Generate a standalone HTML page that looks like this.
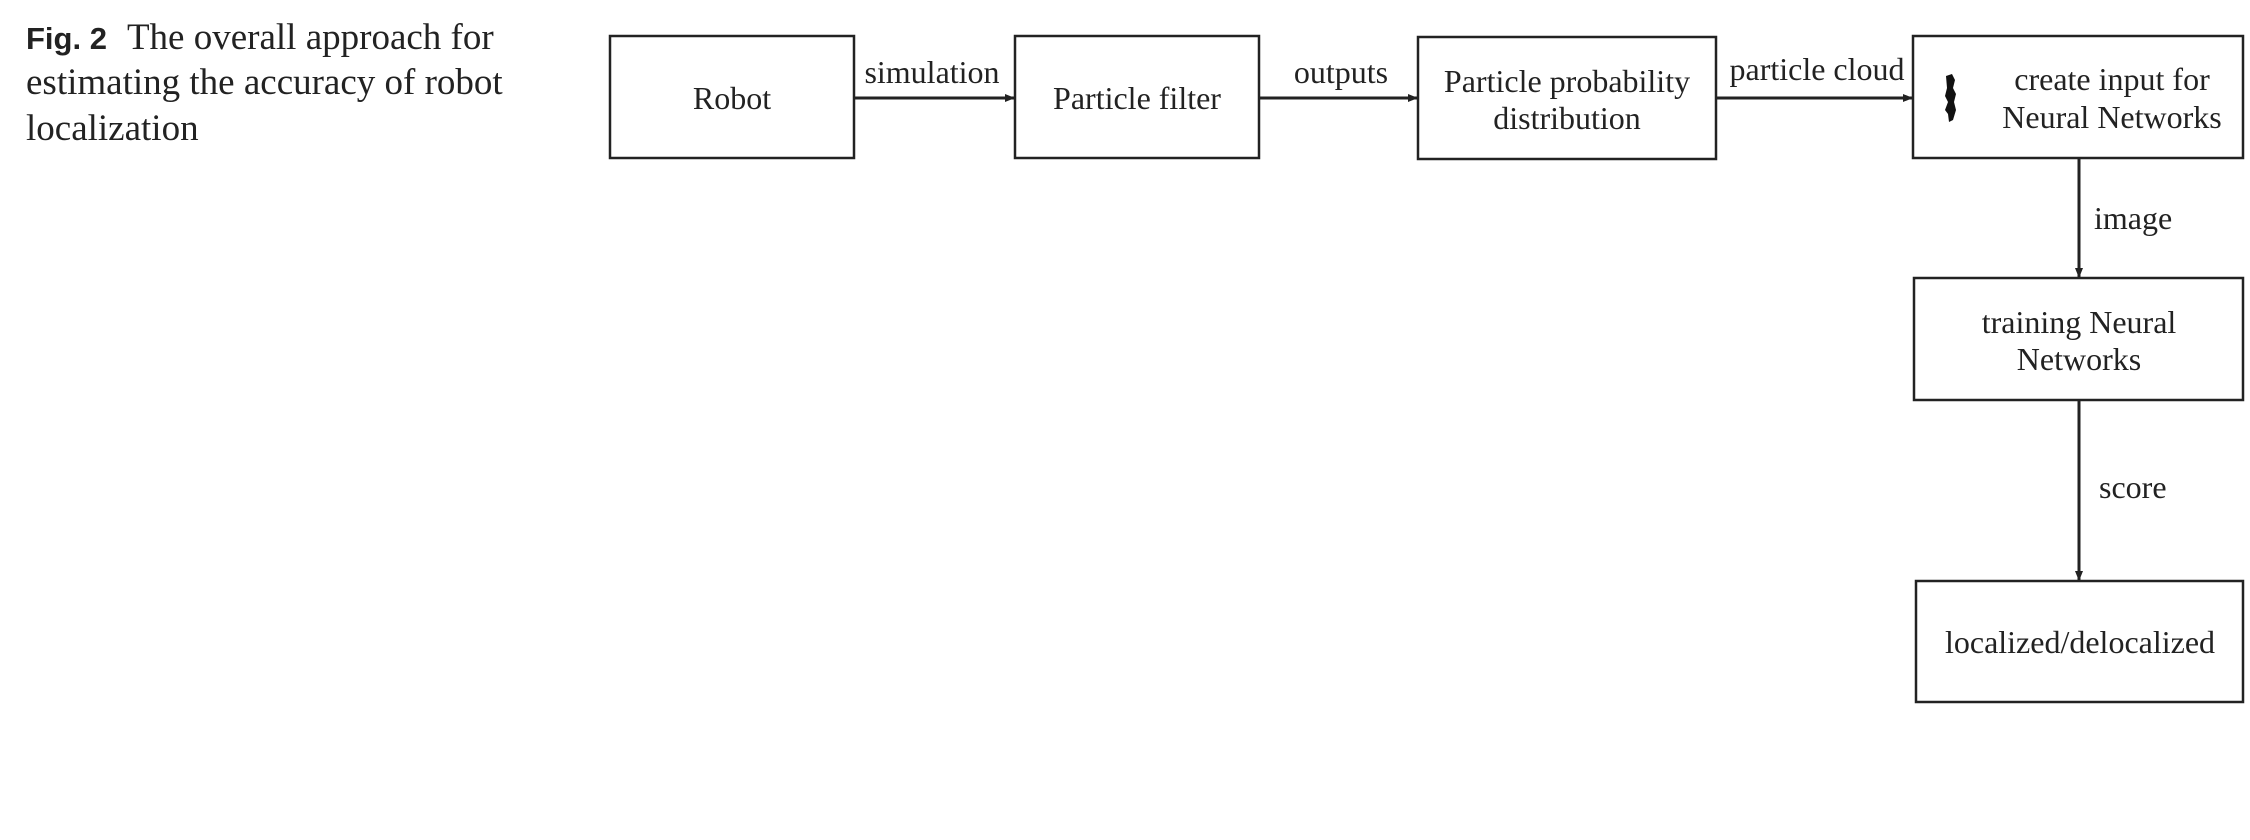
<!DOCTYPE html>
<html><head><meta charset="utf-8"><style>
html,body{margin:0;padding:0;background:#fff;width:2250px;height:840px;overflow:hidden}
svg{display:block}
text{font-family:"Liberation Serif",serif;fill:#222}
</style></head><body>
<svg width="2250" height="840" viewBox="0 0 2250 840">
<defs><marker id="ah" markerWidth="10" markerHeight="10" refX="9" refY="5" orient="auto" markerUnits="userSpaceOnUse"><path d="M0,1 L10,5 L0,9 z" fill="#222"/></marker></defs>
<g font-size="37">
<text x="26" y="49"><tspan style="font-family:'Liberation Sans',sans-serif;font-weight:bold" font-size="31">Fig. 2</tspan><tspan dx="20">The overall approach for</tspan></text>
<text x="26" y="94">estimating the accuracy of robot</text>
<text x="26" y="140">localization</text>
</g>
<g stroke="#222" stroke-width="2.5" fill="none">
<rect x="610" y="36" width="244" height="122"/>
<rect x="1015" y="36" width="244" height="122"/>
<rect x="1418" y="37" width="298" height="122"/>
<rect x="1913" y="36" width="330" height="122"/>
<rect x="1914" y="278" width="329" height="122"/>
<rect x="1916" y="581" width="327" height="121"/>
</g>
<g stroke="#222" stroke-width="3" marker-end="url(#ah)">
<line x1="854" y1="98" x2="1014" y2="98"/>
<line x1="1259" y1="98" x2="1417" y2="98"/>
<line x1="1716" y1="98" x2="1912" y2="98"/>
<line x1="2079" y1="158" x2="2079" y2="277"/>
<line x1="2079" y1="400" x2="2079" y2="580"/>
</g>
<path d="M1946,76 l6,-2 l3,6 l-2,8 l3,6 l-2,8 l2,8 l-3,10 l-4,2 l-1,-8 l-3,-4 l3,-8 l-3,-6 l2,-8z" fill="#111"/>
<g font-size="32" text-anchor="middle">
<text x="732" y="109">Robot</text>
<text x="1137" y="109">Particle filter</text>
<text x="1567" y="92">Particle probability</text>
<text x="1567" y="129">distribution</text>
<text x="2112" y="90">create input for</text>
<text x="2112" y="128">Neural Networks</text>
<text x="2079" y="333">training Neural</text>
<text x="2079" y="370">Networks</text>
<text x="2080" y="653">localized/delocalized</text>
<text x="932" y="83">simulation</text>
<text x="1341" y="83">outputs</text>
<text x="1817" y="80">particle cloud</text>
<text x="2094" y="229" text-anchor="start">image</text>
<text x="2099" y="498" text-anchor="start">score</text>
</g>
</svg>
</body></html>
